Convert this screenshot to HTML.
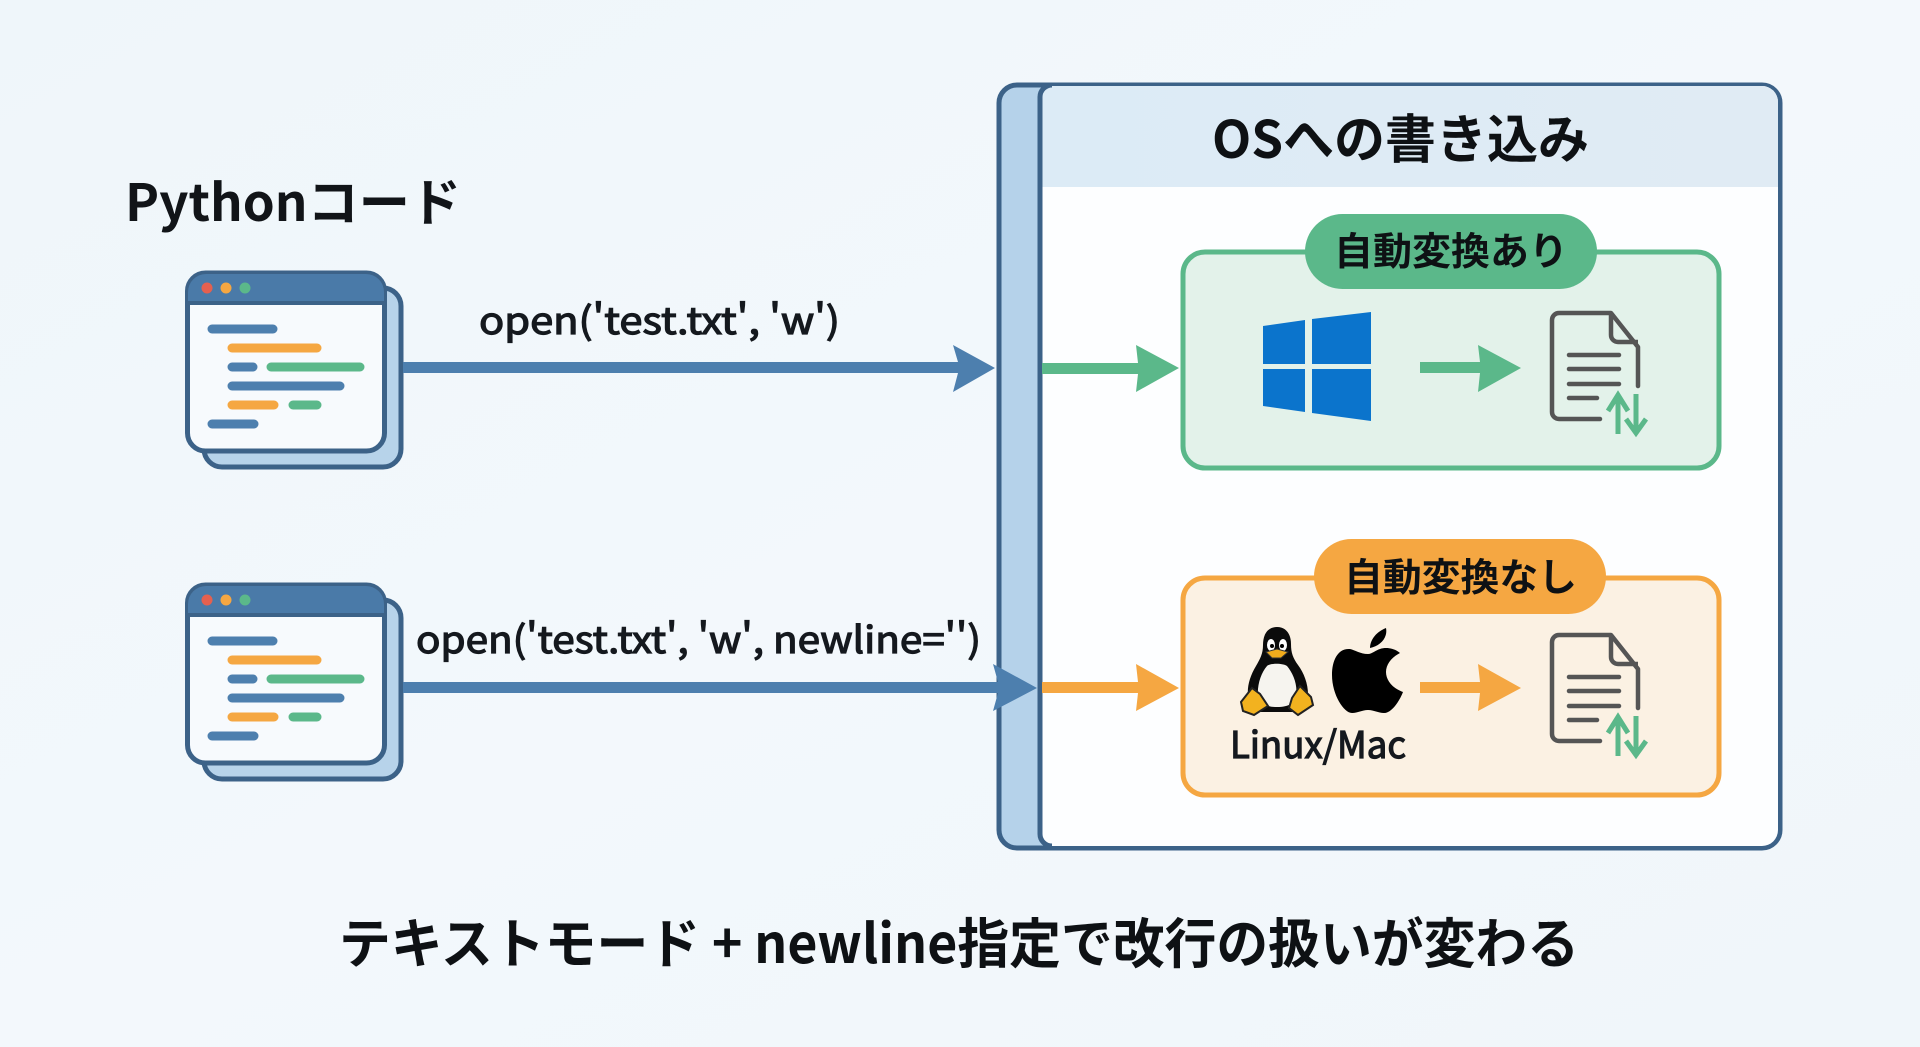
<!DOCTYPE html>
<html lang="ja"><head><meta charset="utf-8"><title>newline</title>
<style>
html,body{margin:0;padding:0;width:1920px;height:1047px;overflow:hidden;background:#f2f7fb}
svg{display:block}
text{font-family:"Noto Sans CJK JP","Liberation Sans",sans-serif}
.m{stroke:#15191e;stroke-width:1.2px}
</style></head><body>
<svg xmlns="http://www.w3.org/2000/svg" xmlns:xlink="http://www.w3.org/1999/xlink" width="1920" height="1047" viewBox="0 0 1920 1047">
<defs>
<linearGradient id="bg" x1="0" y1="0" x2="1" y2="1"><stop offset="0" stop-color="#eff6fa"/><stop offset=".5" stop-color="#f3f8fc"/><stop offset="1" stop-color="#f0f6fa"/></linearGradient>
<linearGradient id="hd" x1="0" y1="0" x2="1" y2="0"><stop offset="0" stop-color="#dcebf6"/><stop offset="1" stop-color="#e0ebf4"/></linearGradient>
<g id="code">
<rect x="204" y="288" width="197" height="179" rx="18" fill="#b7d3ea" stroke="#3c6288" stroke-width="5"/>
<rect x="187.500" y="273" width="197" height="178" rx="18" fill="#f7fafd" stroke="#3c6288" stroke-width="5"/>
<path d="M188 303V292a18 18 0 0 1 18-18H366a18 18 0 0 1 18 18V303Z" fill="#4a7aa8"/>
<path d="M186 303H386" stroke="#3c6288" stroke-width="4"/>
<circle cx="207" cy="288" r="5.500" fill="#e5604f"/><circle cx="226" cy="288" r="5.500" fill="#f5a742"/><circle cx="245" cy="288" r="5.500" fill="#5bb88a"/>
<g stroke-width="9" stroke-linecap="round" fill="none">
<path d="M212 329H273M212 424H254M232 367H253M232 386H340" stroke="#4d7fae"/>
<path d="M232 348H317M232 405H274" stroke="#f5a742"/>
<path d="M271 367H360M293 405H317" stroke="#5bb88a"/>
</g>
</g>
<g id="doc">
<path d="M1600 419H1559a7 7 0 0 1-7-7V320a7 7 0 0 1 7-7H1611L1638 347V386" fill="none" stroke="#555" stroke-width="4.500" stroke-linejoin="round" stroke-linecap="round"/>
<path d="M1611 314V335a7 7 0 0 0 7 7H1638" fill="none" stroke="#555" stroke-width="4.500"/>
<path d="M1569 355H1619M1569 369H1619M1569 384H1619M1569 398H1597" fill="none" stroke="#555" stroke-width="4.500" stroke-linecap="round"/>
<path d="M1618 434V400M1636 394V430" fill="none" stroke="#5bb88a" stroke-width="5"/>
<path d="M1608 411L1618 395L1628 411M1626 419L1636 433L1646 419" fill="none" stroke="#5bb88a" stroke-width="5"/>
</g>
</defs>
<rect width="1920" height="1047" fill="url(#bg)"/>

<text x="125" y="221" font-size="51" font-weight="700" fill="#111418" textLength="336" lengthAdjust="spacingAndGlyphs">Pythonコード</text>
<use xlink:href="#code" href="#code"/>
<use xlink:href="#code" href="#code" y="312"/>

<text class="m" x="479" y="334" font-size="37" fill="#15191e" textLength="361" lengthAdjust="spacingAndGlyphs">open('test.txt', 'w')</text>
<text class="m" x="416" y="653" font-size="37" fill="#15191e" textLength="565" lengthAdjust="spacingAndGlyphs">open('test.txt', 'w', newline='')</text>

<!-- OS panel -->
<rect x="999" y="85" width="781" height="763" rx="18" fill="#b5d2ea" stroke="#3c6288" stroke-width="5"/>
<path d="M1040 98a12 12 0 0 1 12-12H1762a16 16 0 0 1 16 16V830a16 16 0 0 1-16 16H1052a12 12 0 0 1-12-12Z" fill="#fdfeff"/>
<path d="M1040 187V98a12 12 0 0 1 12-12H1762a16 16 0 0 1 16 16V187Z" fill="url(#hd)"/>
<path d="M1052 85a12 12 0 0 0-12 12V834a12 12 0 0 0 12 12" fill="none" stroke="#3c6288" stroke-width="5"/>
<text x="1212" y="158" font-size="52" font-weight="700" fill="#0e1114" textLength="377" lengthAdjust="spacingAndGlyphs">OSへの書き込み</text>

<!-- blue arrows -->
<path d="M403 362H958L953 345L995 368L953 392L958 373H403Z" fill="#4d7fae"/>
<path d="M403 682H998L993 664L1037 688L993 711L998 693H403Z" fill="#4d7fae"/>

<!-- green arrow + box -->
<path d="M1042 363H1138L1136 345L1179 368L1136 392L1138 374H1042Z" fill="#5bb88a"/>
<rect x="1183" y="252" width="536" height="216" rx="22" fill="#e3f2ea" stroke="#5bb88a" stroke-width="5"/>
<rect x="1305" y="214" width="292" height="75" rx="37.500" fill="#5bb88a"/>
<text x="1334" y="265" font-size="38.500" font-weight="700" fill="#0e1114" textLength="234" lengthAdjust="spacingAndGlyphs">自動変換あり</text>
<path d="M1263 326L1305 320V364H1263ZM1312 319L1371 312V364H1312ZM1263 369H1305V412L1263 406ZM1312 369H1371V421L1312 413Z" fill="#0b74cc"/>
<path d="M1420 362H1480L1478 345L1521 368L1478 392L1480 373H1420Z" fill="#5bb88a"/>
<use xlink:href="#doc" href="#doc"/>

<!-- orange arrow + box -->
<path d="M1042 682H1138L1136 664L1179 688L1136 711L1138 693H1042Z" fill="#f5a742"/>
<rect x="1183" y="578" width="536" height="217" rx="22" fill="#fbf1e3" stroke="#f5a742" stroke-width="5"/>
<rect x="1314" y="539" width="292" height="75" rx="37.500" fill="#f5a742"/>
<text x="1344" y="591" font-size="38.500" font-weight="700" fill="#0e1114" textLength="233" lengthAdjust="spacingAndGlyphs">自動変換なし</text>
<path d="M1420 682H1480L1478 664L1521 688L1478 711L1480 693H1420Z" fill="#f5a742"/>
<use xlink:href="#doc" href="#doc" y="322"/>

<!-- penguin -->
<g>
<path d="M1277 627c-9 0-14 7-14 18c0 9-3 14-7 21c-6 10-9 20-8 30c1 9 5 16 12 16h36c6-2 11-8 12-18c0-10-4-21-10-29c-5-7-7-12-7-21c0-10-5-17-14-17Z" fill="#0b0b0b"/>
<path d="M1258 696c-1-11 3-23 9-30c3-3 16-3 20 0c6 7 11 19 9 30c-1 7-7 11-19 11s-18-4-19-11Z" fill="#f6f4ef"/>
<ellipse cx="1271" cy="645" rx="4" ry="6" fill="#fff"/><ellipse cx="1283" cy="645" rx="4" ry="6" fill="#fff"/>
<circle cx="1272" cy="646" r="2" fill="#000"/><circle cx="1282" cy="646" r="2" fill="#000"/>
<path d="M1266 652L1277 649L1288 652L1281 658H1272Z" fill="#f2ac1c" stroke="#333"/>
<path d="M1241 702L1252 688L1260 694L1268 706L1254 715L1243 711Z" fill="#f2b21f" stroke="#222" stroke-width="2"/>
<path d="M1292 698L1300 686L1311 697L1313 705L1298 715L1289 708Z" fill="#f2b21f" stroke="#222" stroke-width="2"/>
</g>
<!-- apple -->
<path d="M1368 654C1360 654 1355 650 1350 649C1338 648 1332 660 1332 675C1332 695 1344 713 1352 713C1358 713 1362 710 1368 710C1374 710 1378 713 1384 713C1392 713 1400 700 1403 692C1392 688 1386 680 1386 672C1386 664 1392 657 1400 653C1394 648 1386 647 1380 649C1376 650 1372 654 1368 654Z" fill="#000"/>
<path d="M1386 628C1376 632 1370 640 1370 648C1380 646 1388 638 1386 628Z" fill="#000"/>
<text class="m" x="1230" y="758" font-size="37" fill="#15191e" textLength="176" lengthAdjust="spacingAndGlyphs">Linux/Mac</text>

<text x="339" y="963" font-size="54" font-weight="700" fill="#0e1114" textLength="1240" lengthAdjust="spacingAndGlyphs">テキストモード + newline指定で改行の扱いが変わる</text>
</svg>
</body></html>
